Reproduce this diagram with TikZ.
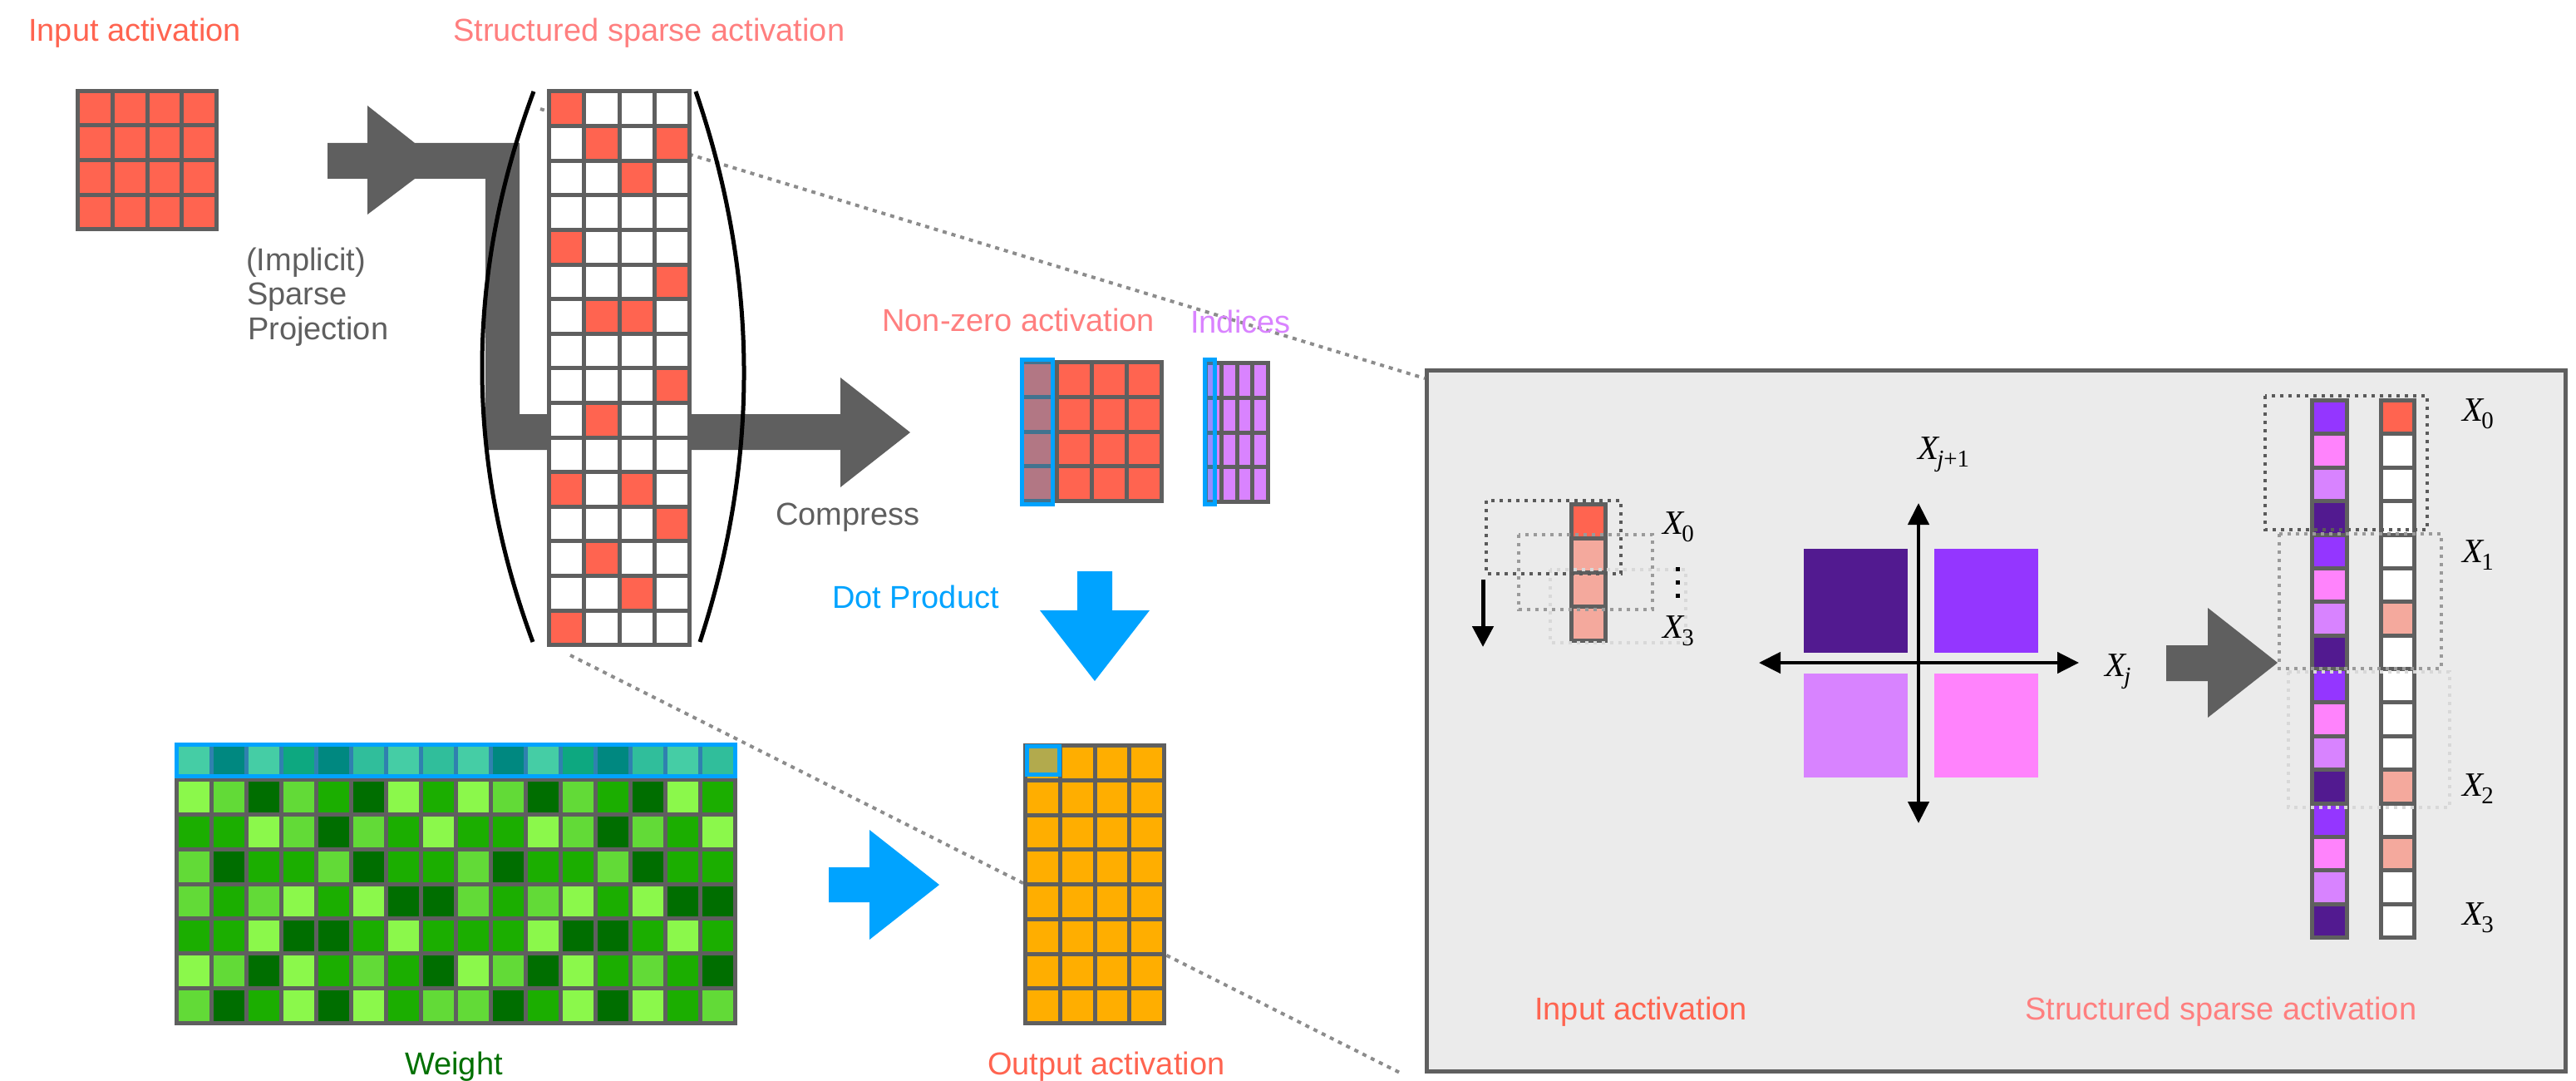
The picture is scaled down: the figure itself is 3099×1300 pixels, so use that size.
\documentclass[tikz,border=0pt]{standalone}
\usepackage[no-math]{fontspec}
\setmainfont{Liberation Sans}
\newfontfamily\tms{Liberation Serif}
\usetikzlibrary{arrows.meta}
\definecolor{gridgray}{HTML}{5F5F5F}
\definecolor{tomatoc}{HTML}{FF6450}
\definecolor{salmonc}{HTML}{FF7F7F}
\definecolor{paler}{HTML}{F4A99D}
\definecolor{bluec}{HTML}{00A3FF}
\definecolor{orangec}{HTML}{FFAE00}
\definecolor{orchidc}{HTML}{D983FF}
\definecolor{g1}{HTML}{8BF84B}
\definecolor{g2}{HTML}{62DA37}
\definecolor{g3}{HTML}{1BAE00}
\definecolor{g4}{HTML}{006E00}
\definecolor{p0}{HTML}{9436FF}
\definecolor{p1}{HTML}{FF83FC}
\definecolor{p2}{HTML}{D883FF}
\definecolor{p3}{HTML}{521A90}
\definecolor{panelbg}{HTML}{EBEBEB}
\definecolor{weightgreen}{HTML}{007000}
\definecolor{dotgray}{HTML}{8C8C8C}
\definecolor{boxdark}{HTML}{5A5A5A}
\definecolor{boxmid}{HTML}{9A9A9A}
\definecolor{boxlight}{HTML}{D8D8D8}
\newcommand{\xlab}[1]{{\itshape X}\kern-2pt\raisebox{-9pt}{\fontsize{29}{30}\selectfont #1}}
\tikzset{
  cellst/.style={draw=gridgray, line width=5pt},
  lbl/.style={inner sep=0pt, anchor=base west, font=\fontsize{38}{44}\selectfont},
  mlbl/.style={inner sep=0pt, anchor=base west, font=\tms\fontsize{41}{48}\selectfont},
  blink/.style={draw=dotgray, line width=4pt, dash pattern=on 5pt off 6pt},
  dbox/.style={line width=4pt, dash pattern=on 4pt off 6pt},
  bluebox/.style={draw=bluec, fill=bluec, line width=5pt},
  fatarrow/.style={fill=gridgray},
  bluearrow/.style={fill=bluec},
  axis/.style={line width=4.5pt, {Triangle[length=26pt,width=25pt]}-{Triangle[length=26pt,width=25pt]}},
}
\begin{document}
\begin{tikzpicture}[x=1pt,y=-1pt]
\useasboundingbox (0,0) rectangle (3099,1300);

% ---------- zoom panel ----------
\draw[fill=panelbg, draw=gridgray, line width=5pt] (1716,445) rectangle (3086,1288);

% ---------- dotted zoom connectors ----------
\coordinate (sTop) at (650,131);
\coordinate (sBot) at (686,788);
\coordinate (pTL) at (1714,455);
\coordinate (pBL) at (1688,1292);
\draw[blink] (sTop) -- (pTL);
\draw[blink] (sBot) -- (pBL);

% ---------- labels ----------
\node[lbl, text=tomatoc] (tIn) at (34,50) {Input activation};
\node[lbl, text=salmonc] (tSp) at (545,50) {Structured sparse activation};
\node[lbl, text=gridgray] (impl1) at (296,325) {(Implicit)};
\node[lbl, text=gridgray] (impl2) at (297,366) {Sparse};
\node[lbl, text=gridgray] (impl3) at (298,408) {Projection};
\node[lbl, text=gridgray] (tComp) at (933,631) {Compress};
\node[lbl, text=salmonc, anchor=base east] (tNz) at (1389,398) {Non-zero activation};
\node[lbl, text=orchidc] (tIdx) at (1432,400) {Indices};
\node[lbl, text=bluec, anchor=base east] (tDot) at (1202,731) {Dot Product};
\node[lbl, text=weightgreen] (tW) at (487,1292) {Weight};
\node[lbl, text=tomatoc] (tOut) at (1188,1292) {Output activation};
\node[lbl, text=tomatoc] (tPin) at (1846,1226) {Input activation};
\node[lbl, text=salmonc] (tPsp) at (2436,1226) {Structured sparse activation};

% ---------- input activation grid ----------
\foreach \r in {0,...,3}
  \foreach \c in {0,...,3}
    \filldraw[cellst, fill=tomatoc] ({93.5+41.75*\c},{109.5+41.5*\r}) rectangle ++(41.75,41.5);

% ---------- projection / compress fat arrow ----------
\fill[fatarrow] (394,172) -- (442,172) -- (442,127) -- (499,172) -- (625,172)
  -- (625,498) -- (1011,498) -- (1011,454) -- (1095,520) -- (1011,586)
  -- (1011,541) -- (584,541) -- (584,215) -- (499,215) -- (442,258)
  -- (442,215) -- (394,215) -- cycle;

% ---------- structured sparse grid ----------
\foreach \r in {0,...,15}
  \foreach \c in {0,...,3}
    \filldraw[cellst, fill=white] ({660.5+42.25*\c},{110+41.6*\r}) rectangle ++(42.25,41.6);
\foreach \r/\c in {0/0,1/1,1/3,2/2,4/0,5/3,6/1,6/2,8/3,9/1,11/0,11/2,12/3,13/1,14/2,15/0}
  \filldraw[cellst, fill=tomatoc] ({660.5+42.25*\c},{110+41.6*\r}) rectangle ++(42.25,41.6);

% parentheses
\draw[line width=5pt] (642,110) .. controls (559.7,330.7) and (559.3,551.3) .. (641,772);
\draw[line width=5pt] (837,110) .. controls (912.7,330.7) and (914.3,551.3) .. (842,772);

% ---------- non-zero activation ----------
\foreach \r in {0,...,3}
  \foreach \c in {0,...,3}
    \filldraw[cellst, fill=tomatoc] ({1229.5+42*\c},{435.5+41.75*\r}) rectangle ++(42,41.75);
\filldraw[bluebox, fill opacity=0.3] (1229.5,432.5) rectangle (1266.5,606.5);

% ---------- indices ----------
\foreach \r in {0,...,3}
  \foreach \c in {0,...,3}
    \filldraw[cellst, fill=orchidc] ({1450.5+18.75*\c},{436.5+41.75*\r}) rectangle ++(18.75,41.75);
\filldraw[bluebox, fill opacity=0.3] (1449.5,432.5) rectangle (1461.5,606.5);

% ---------- blue arrows ----------
\fill[bluearrow] (1296,687) -- (1338,687) -- (1338,734) -- (1383,734) -- (1317,819)
  -- (1251,734) -- (1296,734) -- cycle;
\fill[bluearrow] (997,1043) -- (1046,1043) -- (1046,998) -- (1130,1064) -- (1046,1130)
  -- (1046,1085) -- (997,1085) -- cycle;

% ---------- weight ----------
\foreach \row [count=\r from 0] in {{1,4,1,3,4,2,1,2},{1,2,4,2,3,4,1,3},{3,3,1,2,4,2,3,1},
    {2,4,3,3,2,4,3,3},{2,3,2,1,3,1,4,4},{3,3,1,4,4,3,1,3},{1,2,4,1,3,2,3,4},{2,4,3,1,4,1,3,2}}
  \foreach \v [count=\c from 0] in \row {
    \filldraw[cellst, fill=g\v] ({212.5+42*\c},{895.5+41.875*\r}) rectangle ++(42,41.875);
    \filldraw[cellst, fill=g\v] ({212.5+42*(\c+8)},{895.5+41.875*\r}) rectangle ++(42,41.875);
  }
\filldraw[bluebox, fill opacity=0.5] (212.5,895.5) rectangle (884.5,933.5);

% ---------- output activation ----------
\foreach \r in {0,...,7}
  \foreach \c in {0,...,3}
    \filldraw[cellst, fill=orangec] ({1233.5+41.75*\c},{896.5+41.75*\r}) rectangle ++(41.75,41.75);
\filldraw[bluebox, fill opacity=0.3] (1235.5,897.5) rectangle (1274.5,931.5);

% ---------- panel: left small column ----------
\foreach \r in {0,...,3}
  \filldraw[cellst, fill=paler] (1890.5,{606.5+41*\r}) rectangle ++(41,41);
\filldraw[cellst, fill=tomatoc] (1890.5,606.5) rectangle ++(41,41);
\draw[dbox, draw=boxlight] (1865,685) rectangle (2028,773);
\draw[dbox, draw=boxmid] (1827,643) rectangle (1988,733);
\draw[dbox, draw=boxdark] (1788,602) rectangle (1950,690);
\coordinate (dnA) at (1784,697);
\coordinate (dnB) at (1784,778);
\draw[line width=5pt, -{Triangle[length=25pt,width=25pt]}] (dnA) -- (dnB);
\node[mlbl] (lx0) at (2000,642) {\xlab{0}};
\foreach \yy in {684,700,716}
  \fill (2015.5,{\yy-2.5}) rectangle ++(5,5);
\node[mlbl] (lx3) at (2000,767) {\xlab{3}};

% ---------- panel: quadrants ----------
\fill[p3] (2170,660) rectangle (2295,785);
\fill[p0] (2327,660) rectangle (2452,785);
\fill[p2] (2170,810) rectangle (2295,935);
\fill[p1] (2327,810) rectangle (2452,935);
\coordinate (axL) at (2116,797);
\coordinate (axR) at (2501,797);
\coordinate (axT) at (2308,605);
\coordinate (axB) at (2308,990);
\draw[axis] (axL) -- (axR);
\draw[axis] (axB) -- (axT);
\node[mlbl] (lxj1) at (2307,552) {\xlab{{\itshape j}+1}};
\node[mlbl] (lxj) at (2532,813) {\xlab{\itshape j}};

% ---------- panel: gray arrow ----------
\fill[fatarrow] (2606,776) -- (2656,776) -- (2656,731) -- (2740,797) -- (2656,863)
  -- (2656,819) -- (2606,819) -- cycle;

% ---------- panel: right columns ----------
\foreach \r in {0,...,15} {
  \pgfmathtruncatemacro\m{mod(\r,4)}
  \filldraw[cellst, fill=p\m] (2781.5,{481.5+40.375*\r}) rectangle ++(42,40.375);
  \filldraw[cellst, fill=white] (2864.5,{481.5+40.375*\r}) rectangle ++(40,40.375);
}
\filldraw[cellst, fill=tomatoc] (2864.5,481.5) rectangle ++(40,40.375);
\foreach \r in {6,11,13}
  \filldraw[cellst, fill=paler] (2864.5,{481.5+40.375*\r}) rectangle ++(40,40.375);
\draw[dbox, draw=boxlight] (2753,808) rectangle (2947,971);
\draw[dbox, draw=boxmid] (2742,642) rectangle (2937,804);
\draw[dbox, draw=boxdark] (2725,476) rectangle (2920,637);
\node[mlbl] (rx0) at (2962,506) {\xlab{0}};
\node[mlbl] (rx1) at (2962,676) {\xlab{1}};
\node[mlbl] (rx2) at (2962,957) {\xlab{2}};
\node[mlbl] (rx3) at (2962,1112) {\xlab{3}};
\end{tikzpicture}
\end{document}
